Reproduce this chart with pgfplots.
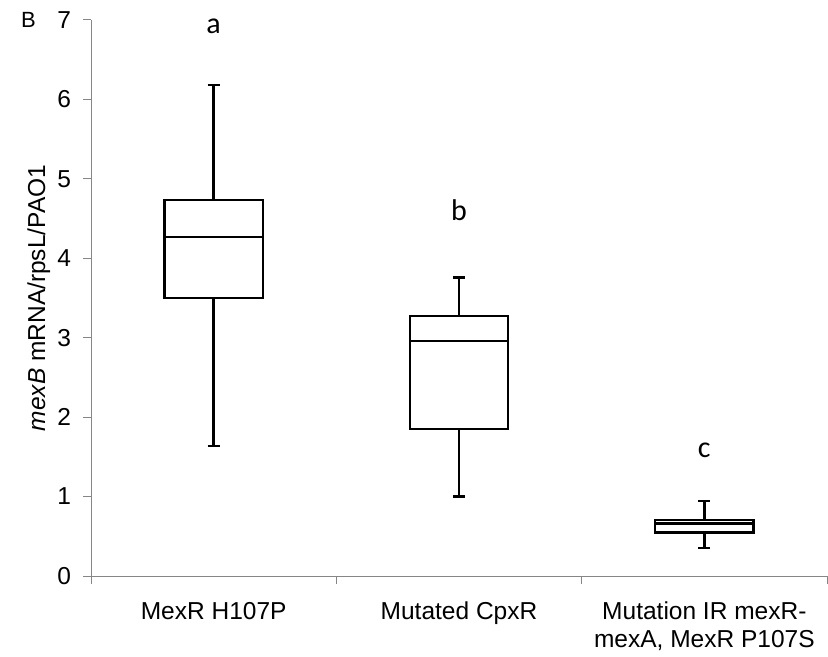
\documentclass[border=0pt]{standalone}
\usepackage{fontspec}
\setmainfont{Liberation Sans}
\newfontfamily\calibri{Carlito}
\usepackage{pgfplots}
\pgfplotsset{compat=1.18}
\usepgfplotslibrary{statistics}
\definecolor{axisgray}{HTML}{868686}

\begin{document}
\begin{tikzpicture}
\begin{axis}[
  scale only axis, width=368pt, height=278pt,
  xmin=0.5, xmax=3.5, ymin=0, ymax=7,
  axis lines*=left,
  axis line style={axisgray, line width=0.5pt},
  tick align=outside, major tick length=4pt,
  tick style={axisgray, line width=0.5pt},
  ytick={0,1,...,7},
  yticklabel style={xshift=-2.5pt},
  xtick={0.5,1.5,2.5,3.5}, xticklabels={},
  extra x ticks={1,2,3},
  extra x tick labels={MexR H107P, Mutated CpxR, {Mutation IR mexR-\\mexA, MexR P107S}},
  extra x tick style={major tick length=0pt,
    xticklabel style={align=center, anchor=north, yshift=-9.5pt}},
  /pgf/number format/assume math mode=true,
  tick label style={font=\fontsize{12.25}{14}\selectfont, black},
  ylabel={\textit{mexB} mRNA/rpsL/PAO1},
  ylabel style={font=\fontsize{12.25}{14}\selectfont, at={(axis description cs:-0.071,0.5)}, anchor=center},
  boxplot/draw direction=y,
  boxplot/box extend=0.4,
  boxplot/whisker extend=0.05,
  boxplot/draw/box/.code={
    \draw[black, line width=1.2pt, line join=miter]
      (boxplot box cs:\pgfplotsboxplotvalue{lower quartile},0) rectangle
      (boxplot box cs:\pgfplotsboxplotvalue{upper quartile},1);},
  boxplot/draw/median/.code={
    \draw[black, line width=1.2pt]
      (boxplot box cs:\pgfplotsboxplotvalue{median},0) --
      (boxplot box cs:\pgfplotsboxplotvalue{median},1);},
  clip=false,
]
\addplot[black, line width=1.2pt, boxplot prepared={draw position=1,
  median=4.27, upper quartile=4.73, lower quartile=3.50,
  upper whisker=6.18, lower whisker=1.64}] coordinates {};
\addplot[black, line width=1.2pt, boxplot prepared={draw position=2,
  median=2.96, upper quartile=3.27, lower quartile=1.85,
  upper whisker=3.76, lower whisker=1.00}] coordinates {};
\addplot[black, line width=1.2pt, boxplot prepared={draw position=3,
  median=0.66, upper quartile=0.705, lower quartile=0.55,
  upper whisker=0.945, lower whisker=0.35}] coordinates {};
\node[font=\calibri\fontsize{15}{17}\selectfont, anchor=base] at (axis cs:1,6.83) {a};
\node[font=\calibri\fontsize{15}{17}\selectfont, anchor=base] at (axis cs:2,4.47) {b};
\node[font=\calibri\fontsize{15}{17}\selectfont, anchor=base] at (axis cs:3,1.49) {c};
\node[font=\fontsize{11}{13}\selectfont] at (axis description cs:-0.085,1) {B};
\end{axis}
\pgfresetboundingbox
\useasboundingbox (-45.5pt,-40.5pt) rectangle (368.5pt,288pt);
\end{tikzpicture}
\end{document}
